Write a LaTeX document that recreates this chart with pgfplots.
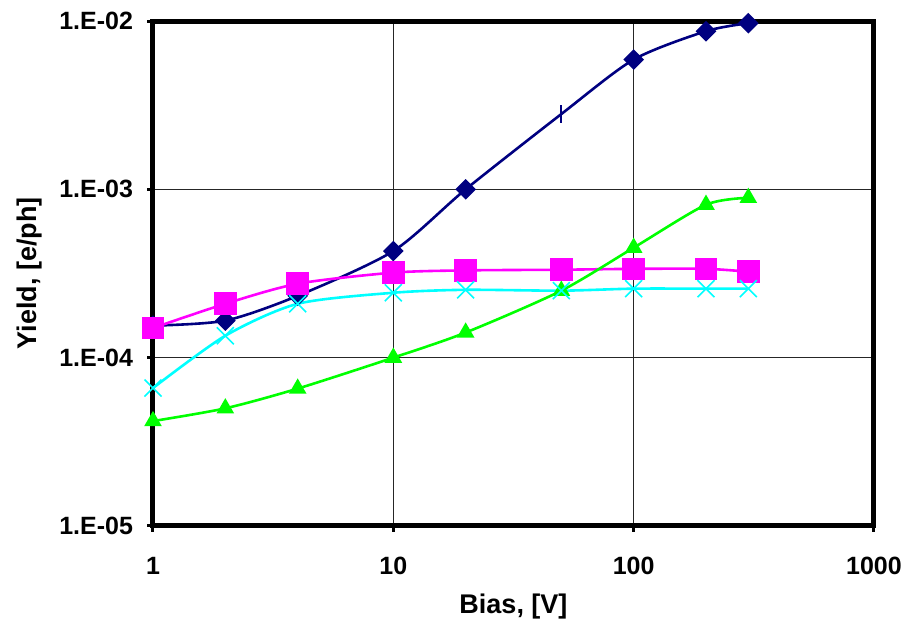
\documentclass[border=0pt]{standalone}
\usepackage{fontspec}
\setmainfont{Liberation Sans}
\usepackage{pgfplots}
\pgfplotsset{compat=1.18}
\definecolor{cNavy}{RGB}{0,0,128}
\definecolor{cMag}{RGB}{255,0,255}
\definecolor{cCyan}{RGB}{0,255,255}
\definecolor{cGreen}{RGB}{0,255,0}
\newcommand{\tlbl}{\fontsize{12.5}{14}\selectfont\bfseries}
\newcommand{\albl}{\fontsize{13.5}{15}\selectfont\bfseries}

\begin{document}
\begin{tikzpicture}
\begin{loglogaxis}[
  scale only axis, width=360.5pt, height=252.5pt,
  xmin=1, xmax=1000, ymin=1e-5, ymax=1e-2,
  xtick={1,10,100,1000}, xticklabels={1,10,100,1000},
  ytick={1e-5,1e-4,1e-3,1e-2},
  yticklabels={1.E-05,1.E-04,1.E-03,1.E-02},
  xminorticks=false, yminorticks=false,
  xtick pos=bottom, ytick pos=left,
  tick align=outside, major tick length=3pt,
  tick style={black, line width=1.5pt},
  grid=major, major grid style={black!85, line width=0.6pt},
  axis line style={line width=2.5pt},
  tick label style={font=\tlbl},
  xticklabel style={yshift=-9pt},
  yticklabel style={xshift=-3.5pt},
  label style={font=\albl},
  xlabel={Bias, [V]}, ylabel={Yield, [e/ph]},
  xlabel style={at={(axis description cs:0.5,-0.1604)}, anchor=center},
  ylabel style={at={(axis description cs:-0.1706,0.5)}, anchor=center},
  every axis plot/.append style={smooth, tension=0.45},
]
% navy, diamonds
\addplot[cNavy, line width=1.3pt, mark=square*, mark indices={1,2,3,4,5,7,8,9},
  mark options={rotate=45, mark size=3pt}] coordinates {
  (1,1.55e-4) (2,1.66e-4) (4,2.33e-4) (10,4.3e-4) (20,1.0e-3)
  (50,2.8e-3) (100,5.9e-3) (200,8.7e-3) (300,9.7e-3)};
\addplot[cNavy, only marks, mark=|, mark size=4.5pt, line width=1pt] coordinates {(50,2.8e-3)};
% magenta, squares
\addplot[cMag, line width=1.3pt, mark=square*, mark options={mark size=5pt}] coordinates {
  (1,1.5e-4) (2,2.09e-4) (4,2.75e-4) (10,3.2e-4) (20,3.3e-4)
  (50,3.33e-4) (100,3.37e-4) (200,3.37e-4) (300,3.24e-4)};
% green, triangles
\addplot[cGreen, line width=1.3pt, mark=triangle*, mark options={mark size=3.8pt}] coordinates {
  (1,4.2e-5) (2,5.0e-5) (4,6.55e-5) (10,1.0e-4) (20,1.41e-4)
  (50,2.5e-4) (100,4.5e-4) (200,8.1e-4) (300,8.9e-4)};
% cyan, crosses
\addplot[cCyan, line width=1.3pt, mark=x, mark options={mark size=6pt, line width=0.8pt}] coordinates {
  (1,6.6e-5) (2,1.35e-4) (4,2.09e-4) (10,2.43e-4) (20,2.53e-4)
  (50,2.5e-4) (100,2.57e-4) (200,2.57e-4) (300,2.57e-4)};
\end{loglogaxis}
\pgfresetboundingbox
\path ([xshift=-76.5pt,yshift=-50.5pt]current axis.south west)
  rectangle ([xshift=17pt,yshift=10.5pt]current axis.north east);
\end{tikzpicture}
\end{document}
